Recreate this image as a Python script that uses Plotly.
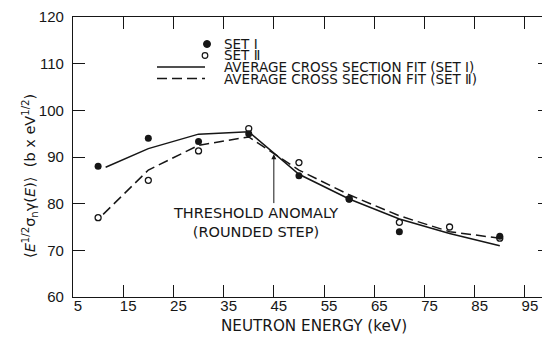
import plotly.graph_objects as go

# ---- data ----
energy_set1 = [10, 20, 30, 40, 50, 60, 70, 90]
sigma_set1 = [88.0, 94.0, 93.3, 95.0, 86.0, 81.0, 74.0, 73.0]
energy_set2 = [10, 20, 30, 40, 50, 60, 70, 80, 90]
sigma_set2 = [77.0, 85.0, 91.3, 96.1, 88.8, 81.0, 76.0, 75.0, 72.6]
fit1_energy = [11.5, 20, 30, 40, 50, 60, 70, 80, 90]
fit1_sigma = [87.8, 91.8, 94.9, 95.4, 86.3, 81.0, 76.7, 73.6, 71.0]
fit2_energy = [11.0, 20, 30, 40, 50, 60, 70, 80, 90]
fit2_sigma = [77.7, 87.2, 92.5, 94.3, 87.2, 81.9, 77.4, 74.0, 72.6]
x_ticks = [5, 15, 25, 35, 45, 55, 65, 75, 85, 95]
y_ticks = [60, 70, 80, 90, 100, 110, 120]
legend_labels = ["SET Ⅰ", "SET Ⅱ",
                 "AVERAGE CROSS SECTION FIT (SET Ⅰ)",
                 "AVERAGE CROSS SECTION FIT (SET Ⅱ)"]

INK = "#161616"
NUMFONT = "Liberation Sans, Arial, sans-serif"
FONT = "DejaVu Sans, sans-serif"

# the page body adds an 8px offset; positions below are given in window pixels
OFF = 8
W, H = 550 - OFF, 337 - OFF
ML, MR, MT, MB = 73 - OFF, 0, 17 - OFF, 40
PW, PH = W - ML - MR, H - MT - MB


def px(xs):
    return (xs - OFF - ML) / PW


def py(ys):
    return (H - MB - (ys - OFF)) / PH


fig = go.Figure()
fig.add_trace(go.Scatter(x=fit1_energy, y=fit1_sigma, mode="lines",
                         line=dict(color=INK, width=1.5), showlegend=False))
fig.add_trace(go.Scatter(x=fit2_energy, y=fit2_sigma, mode="lines",
                         line=dict(color=INK, width=1.5, dash="10px,5px"), showlegend=False))
fig.add_trace(go.Scatter(x=energy_set2, y=sigma_set2, mode="markers",
                         marker=dict(symbol="circle-open", size=6, color=INK,
                                     line=dict(width=1.3, color=INK)), showlegend=False))
fig.add_trace(go.Scatter(x=energy_set1, y=sigma_set1, mode="markers",
                         marker=dict(symbol="circle", size=7, color=INK), showlegend=False))

axis_common = dict(showgrid=False, zeroline=False, showline=True, linecolor=INK,
                   linewidth=1.2, mirror="ticks", ticks="inside", ticklen=12,
                   tickcolor=INK, tickwidth=1, automargin=False,
                   tickfont=dict(family=NUMFONT, size=15, color=INK))
fig.update_xaxes(range=[5, 100], tickvals=x_ticks, ticklabelshift=5,
                 ticklabelstandoff=-5, **axis_common)
fig.update_yaxes(range=[60, 120], tickvals=y_ticks, ticklabelstandoff=5, **axis_common)

anns = []
# axis titles
anns.append(dict(text="NEUTRON ENERGY (keV)", xref="paper", yref="paper",
                 x=px(314), y=py(326), xanchor="center", yanchor="middle",
                 showarrow=False, font=dict(family=FONT, size=15.2, color=INK)))
anns.append(dict(text="⟨<i>E</i><sup>1/2</sup>σ<sub>n</sub>γ(<i>E</i>)⟩  (b x eV<sup>1/2</sup>)",
                 xref="paper", yref="paper", x=px(30), y=py(176), textangle=-90,
                 xanchor="center", yanchor="middle",
                 showarrow=False, font=dict(family=FONT, size=14.5, color=INK)))
# threshold anomaly note
anns.append(dict(text="THRESHOLD ANOMALY<br>(ROUNDED STEP)", x=41.3, y=76.0,
                 xanchor="center", yanchor="middle",
                 showarrow=False, font=dict(family=FONT, size=14.5, color=INK)))
anns.append(dict(text="", x=45, y=90.6, ax=45, ay=79.8, axref="x", ayref="y",
                 showarrow=True, arrowhead=2, arrowsize=1, arrowwidth=1,
                 arrowcolor=INK))

# legend
rows = [44, 55.5, 67, 78.5]
for lab, yy in zip(legend_labels, rows):
    anns.append(dict(text=lab, xref="paper", yref="paper", x=px(222), y=py(yy),
                     xanchor="left", yanchor="middle", showarrow=False,
                     font=dict(family=FONT, size=13.5, color=INK)))

shapes = [
    dict(type="circle", xref="paper", yref="paper", xsizemode="pixel",
         ysizemode="pixel", xanchor=px(207), yanchor=py(44), x0=-3.5, x1=3.5,
         y0=-3.5, y1=3.5, fillcolor=INK, line=dict(color=INK, width=1)),
    dict(type="circle", xref="paper", yref="paper", xsizemode="pixel",
         ysizemode="pixel", xanchor=px(205), yanchor=py(55.5), x0=-2.8, x1=2.8,
         y0=-2.8, y1=2.8, line=dict(color=INK, width=1.2)),
    dict(type="line", xref="paper", yref="paper", x0=px(157), x1=px(205),
         y0=py(67), y1=py(67), line=dict(color=INK, width=1.5)),
    dict(type="line", xref="paper", yref="paper", x0=px(157), x1=px(205),
         y0=py(78.5), y1=py(78.5), line=dict(color=INK, width=1.5, dash="10px,5px")),
]

fig.update_layout(width=W, height=H, margin=dict(l=ML, r=MR, t=MT, b=MB),
                  paper_bgcolor="white", plot_bgcolor="white",
                  annotations=anns, shapes=shapes, showlegend=False)

fig.write_html("out.html")
